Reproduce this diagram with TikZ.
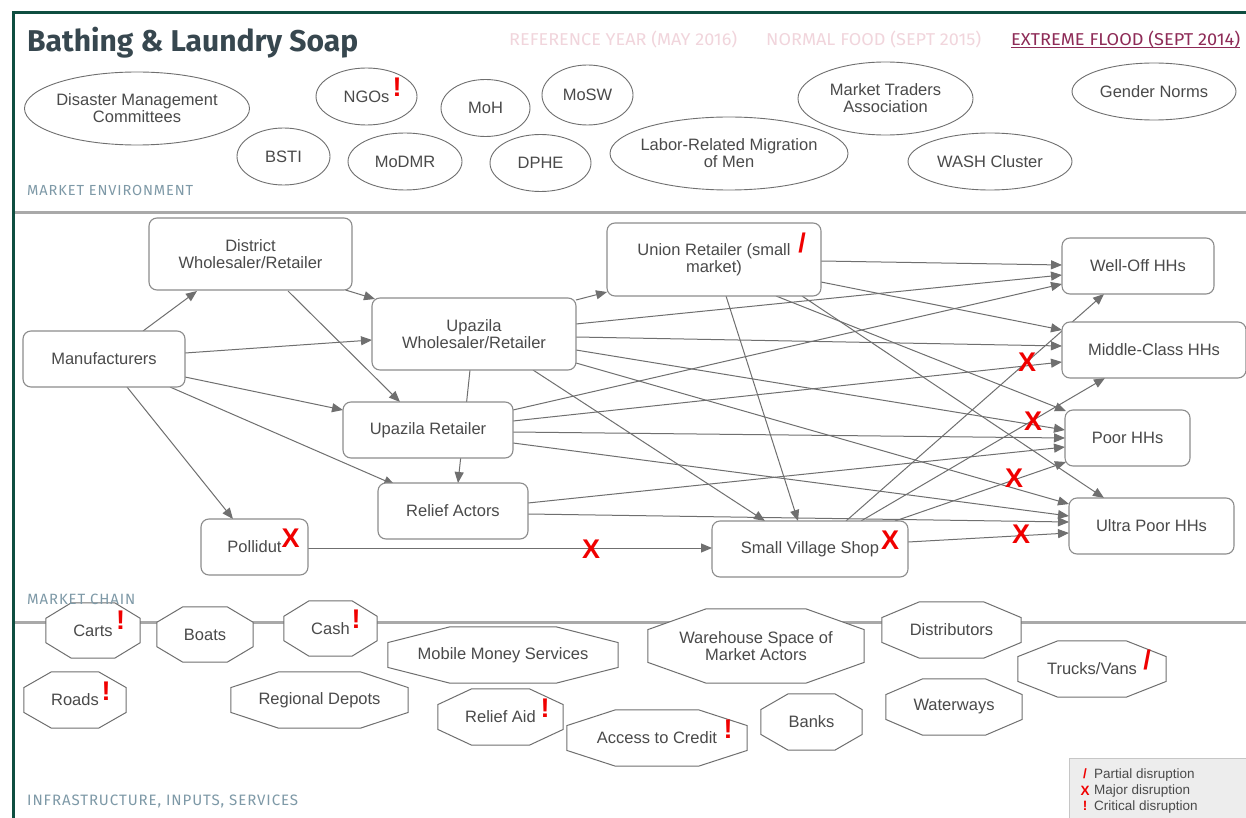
\documentclass[tikz,border=0pt]{standalone}
\usepackage{fontspec}
\setmainfont{Liberation Sans}
\newfontfamily\firafont{Fira Sans}
\newfontfamily\spacedfont[LetterSpace=6]{Fira Sans}
\usetikzlibrary{shapes.geometric,arrows.meta,calc}

\definecolor{framegreen}{HTML}{0E4E40}
\definecolor{rulegray}{HTML}{A9A9A9}
\definecolor{linegray}{HTML}{6F6F6F}
\definecolor{boxgray}{HTML}{8C8C8C}
\definecolor{txtgray}{HTML}{4A4A4A}
\definecolor{titleslate}{HTML}{37474F}
\definecolor{fadedpink}{HTML}{F1D5DC}
\definecolor{floodred}{HTML}{8E2B57}
\definecolor{seclabel}{HTML}{7E99A7}
\definecolor{markred}{HTML}{F00000}
\definecolor{legendfill}{HTML}{EDEDED}
\definecolor{legendline}{HTML}{C6C6C6}

\pgfdeclarelayer{edgelayer}
\pgfdeclarelayer{shapelayer}
\pgfsetlayers{edgelayer,shapelayer,main}

\tikzset{
  txt/.style={font=\fontsize{16.5}{17}\selectfont, text=txtgray, align=center},
  chainbox/.style={txt, draw=boxgray, line width=1.1pt, rounded corners=8pt, fill=white, inner sep=0pt},
  envell/.style={ellipse, draw=linegray, line width=0.9pt, fill=white, inner sep=0pt},
  octbox/.style={txt, inner sep=0pt},
  octline/.style={draw=linegray, line width=1pt, fill=white},
  arr/.style={draw=linegray, line width=1pt, -{Triangle[length=11pt,width=9pt]}},
  disrupt/.style={text=markred, font=\fontsize{27}{27}\selectfont\bfseries, inner sep=0pt},
  hdr/.style={anchor=base west, inner sep=0pt},
  seclab/.style={anchor=base west, inner sep=0pt, text=seclabel},
  legtxt/.style={anchor=west, inner sep=0pt, text=txtgray, font=\fontsize{13.5}{14}\selectfont},
  legsym/.style={anchor=center, inner sep=0pt, text=markred, font=\fontsize{13.5}{14}\selectfont\bfseries},
}

% rounded box of the market chain: name, x, y, width, height, text
\newcommand\chainnode[6]{\node[chainbox, minimum width=#4pt, minimum height=#5pt] (#1) at (#2,#3) {#6};}
% ellipse of the market environment: name, x, y, width, height, text
\newcommand\envnode[6]{\node[envell, minimum width=#4pt, minimum height=#5pt, label={[txt]center:#6}] (#1) at (#2,#3) {};}
% octagon outline around a named node
\newcommand\octframe[1]{%
  \begin{pgfonlayer}{shapelayer}
  \path[octline] ($(#1.north west)!0.27!(#1.north east)$) -- ($(#1.north east)!0.27!(#1.north west)$)
    -- ($(#1.north east)!0.28!(#1.south east)$) -- ($(#1.south east)!0.28!(#1.north east)$)
    -- ($(#1.south east)!0.27!(#1.south west)$) -- ($(#1.south west)!0.27!(#1.south east)$)
    -- ($(#1.south west)!0.28!(#1.north west)$) -- ($(#1.north west)!0.28!(#1.south west)$) -- cycle;
  \end{pgfonlayer}}
% octagon node of infrastructure: name, x, y, width, height, text
\newcommand\infranode[6]{\node[octbox, minimum width=#4pt, minimum height=#5pt] (#1) at (#2,#3) {#6};\octframe{#1}}
% arrow between two nodes, offsets from their centres
\newcommand\flow[6]{\draw[arr] ($(#1.center)+(#2,#3)$) -- ($(#4.center)+(#5,#6)$);}

\begin{document}
\begin{tikzpicture}[x=1pt, y=-1pt]
\useasboundingbox (0,0) rectangle (1246,818);

\begin{pgfonlayer}{edgelayer}
  \fill[white] (0,0) rectangle (1246,818);
  \draw[rulegray, line width=3pt] (14,213) -- (1246,213);
  \draw[rulegray, line width=3pt] (14,622) -- (1246,622);
  \draw[framegreen, line width=3pt] (13,818) -- (13,13) -- (1246,13);
\end{pgfonlayer}

% heading
\node[hdr, text=titleslate] (title) at (27,52) {\resizebox{331pt}{!}{\firafont\bfseries Bathing \& Laundry Soap}};
\node[hdr, text=fadedpink] (hdrref) at (509,45.5) {\resizebox{228pt}{14.5pt}{\firafont REFERENCE YEAR (MAY 2016)}};
\node[hdr, text=fadedpink] (hdrnormal) at (766,45.5) {\resizebox{215pt}{14.5pt}{\firafont NORMAL FOOD (SEPT 2015)}};
\node[hdr, text=floodred] (hdrflood) at (1011,45.5) {\resizebox{229pt}{14.5pt}{\firafont EXTREME FLOOD (SEPT 2014)}};
\draw[floodred, line width=1pt] ($(hdrflood.base west)+(0,2.5)$) -- ($(hdrflood.base east)+(0,2.5)$);

% section labels
\node[seclab] (labenv) at (27,196) {\resizebox{166pt}{!}{\spacedfont MARKET ENVIRONMENT}};
\node[seclab] (labchain) at (27,604) {\resizebox{108pt}{!}{\spacedfont MARKET CHAIN}};
\node[seclab] (labinfra) at (27,805) {\resizebox{271pt}{!}{\spacedfont INFRASTRUCTURE, INPUTS, SERVICES}};

% market environment
\envnode{dmc}{137}{108.5}{225}{73}{Disaster Management\\Committees}
\envnode{ngos}{366.5}{96.5}{101}{57}{NGOs}
\envnode{moh}{485.5}{108}{89}{57}{MoH}
\envnode{mosw}{587.5}{95}{91}{60}{MoSW}
\envnode{bsti}{283.5}{156.5}{93}{57}{BSTI}
\envnode{modmr}{405}{161.5}{114}{57}{MoDMR}
\envnode{dphe}{540.5}{163}{101}{57}{DPHE}
\envnode{labor}{729}{153.5}{238}{73}{Labor-Related Migration\\of Men}
\envnode{mta}{885.5}{98.5}{175}{73}{Market Traders\\Association}
\envnode{wash}{990}{161.5}{164}{57}{WASH Cluster}
\envnode{gender}{1154}{91.5}{164}{57}{Gender Norms}

% market chain
\chainnode{manu}{104}{359}{162}{56}{Manufacturers}
\chainnode{dist}{250.5}{254}{203}{72}{District\\Wholesaler/Retailer}
\chainnode{upw}{474}{334}{204}{72}{Upazila\\Wholesaler/Retailer}
\chainnode{uret}{428}{430}{170}{56}{Upazila Retailer}
\chainnode{relief}{453}{511}{150}{56}{Relief Actors}
\chainnode{poll}{254.5}{547}{107}{56}{Pollidut}
\chainnode{union}{714}{259.5}{214}{73}{Union Retailer (small\\market)}
\chainnode{svs}{810}{549}{196}{56}{Small Village Shop}
\chainnode{welloff}{1138}{266}{152}{56}{Well-Off HHs}
\chainnode{middle}{1154}{350}{184}{56}{Middle-Class HHs}
\chainnode{poor}{1127.5}{438}{125}{56}{Poor HHs}
\chainnode{ultra}{1151.5}{526}{165}{56}{Ultra Poor HHs}

\begin{pgfonlayer}{edgelayer}
  \flow{manu}{39}{-28}{dist}{-53.5}{37}
  \flow{dist}{95}{36}{upw}{-99}{-35}
  \flow{dist}{37.5}{37}{uret}{-28}{-28}
  \flow{manu}{81}{-6}{upw}{-102}{6}
  \flow{manu}{81}{18}{uret}{-85}{-20}
  \flow{manu}{66}{28}{relief}{-58}{-26}
  \flow{manu}{23}{28}{poll}{-21.5}{-28}
  \flow{upw}{102}{-34}{union}{-107}{32.5}
  \flow{upw}{-4}{36}{relief}{5}{-28}
  \flow{upw}{59}{36}{svs}{-45}{-28}
  \flow{upw}{102}{-10}{welloff}{-76}{9}
  \flow{upw}{102}{3}{middle}{-92}{-4}
  \flow{upw}{102}{16}{poor}{-62.5}{-8}
  \flow{upw}{102}{29}{ultra}{-82.5}{-22}
  \flow{union}{107}{1.5}{welloff}{-76}{-1}
  \flow{union}{107}{22.5}{middle}{-92}{-20}
  \flow{union}{12}{36.5}{svs}{-12}{-28}
  \flow{union}{62}{36.5}{poor}{-61.5}{-27}
  \flow{union}{88}{36.5}{ultra}{-47.5}{-28}
  \flow{uret}{85}{-20}{welloff}{-76}{18}
  \flow{uret}{85}{-9}{middle}{-92}{12}
  \flow{uret}{85}{2}{poor}{-62.5}{0}
  \flow{uret}{85}{13}{ultra}{-82.5}{-10}
  \flow{relief}{75}{-8}{poor}{-62.5}{9}
  \flow{relief}{75}{3}{ultra}{-82.5}{-4}
  \flow{poll}{53.5}{1}{svs}{-98}{-1}
  \flow{svs}{36}{-28}{welloff}{-34}{28}
  \flow{svs}{51}{-28}{middle}{-49}{28}
  \flow{svs}{85}{-28}{poor}{-61.5}{24}
  \flow{svs}{98}{-7}{ultra}{-82.5}{7}
\end{pgfonlayer}

% infrastructure, inputs, services
\infranode{carts}{93}{630.5}{94}{55}{Carts}
\infranode{boats}{205}{634.5}{96}{55}{Boats}
\infranode{cash}{330.5}{628.5}{93}{55}{Cash}
\infranode{mms}{503}{655}{230}{56}{Mobile Money Services}
\infranode{roads}{75}{700}{102}{56}{Roads}
\infranode{depots}{319.5}{700}{177}{56}{Regional Depots}
\infranode{reliefaid}{500.5}{717}{125}{56}{Relief Aid}
\infranode{credit}{657}{738}{180}{56}{Access to Credit}
\infranode{warehouse}{756}{646}{216}{74}{Warehouse Space of\\Market Actors}
\infranode{banks}{811.5}{722}{101}{56}{Banks}
\infranode{distrib}{951.5}{630}{139}{56}{Distributors}
\infranode{waterways}{954}{707}{136}{56}{Waterways}
\infranode{trucks}{1092}{669}{148}{56}{Trucks/Vans}

% disruption marks
\node[disrupt] (mngos) at (397,87) {!};
\node[disrupt] (mcarts) at (120.5,620) {!};
\node[disrupt] (mcash) at (356,619) {!};
\node[disrupt] (mroads) at (106,691) {!};
\node[disrupt] (mreliefaid) at (545,708) {!};
\node[disrupt] (mcredit) at (728,729) {!};
\node[disrupt] (munion) at (802,243) {/};
\node[disrupt] (mtrucks) at (1147,660) {/};
\node[disrupt] (xpoll) at (290.5,538) {X};
\node[disrupt] (xpollsvs) at (591,549) {X};
\node[disrupt] (xsvs) at (890,540) {X};
\node[disrupt] (xwell) at (1027,362) {X};
\node[disrupt] (xmiddle) at (1033,421) {X};
\node[disrupt] (xpoor) at (1014,478) {X};
\node[disrupt] (xultra) at (1021,534) {X};

% legend
\node[draw=legendline, fill=legendfill, line width=1pt, minimum width=190pt, minimum height=64pt, anchor=north west, inner sep=0pt] (legend) at (1069,758) {};
\node[legsym] (lgpartial) at (1085,774) {/};
\node[legtxt] (lgpartialtxt) at (1094,775) {Partial disruption};
\node[legsym] (lgmajor) at (1085,791) {X};
\node[legtxt] (lgmajortxt) at (1094,791) {Major disruption};
\node[legsym] (lgcrit) at (1085,806) {!};
\node[legtxt] (lgcrittxt) at (1094,807) {Critical disruption};
\end{tikzpicture}
\end{document}
